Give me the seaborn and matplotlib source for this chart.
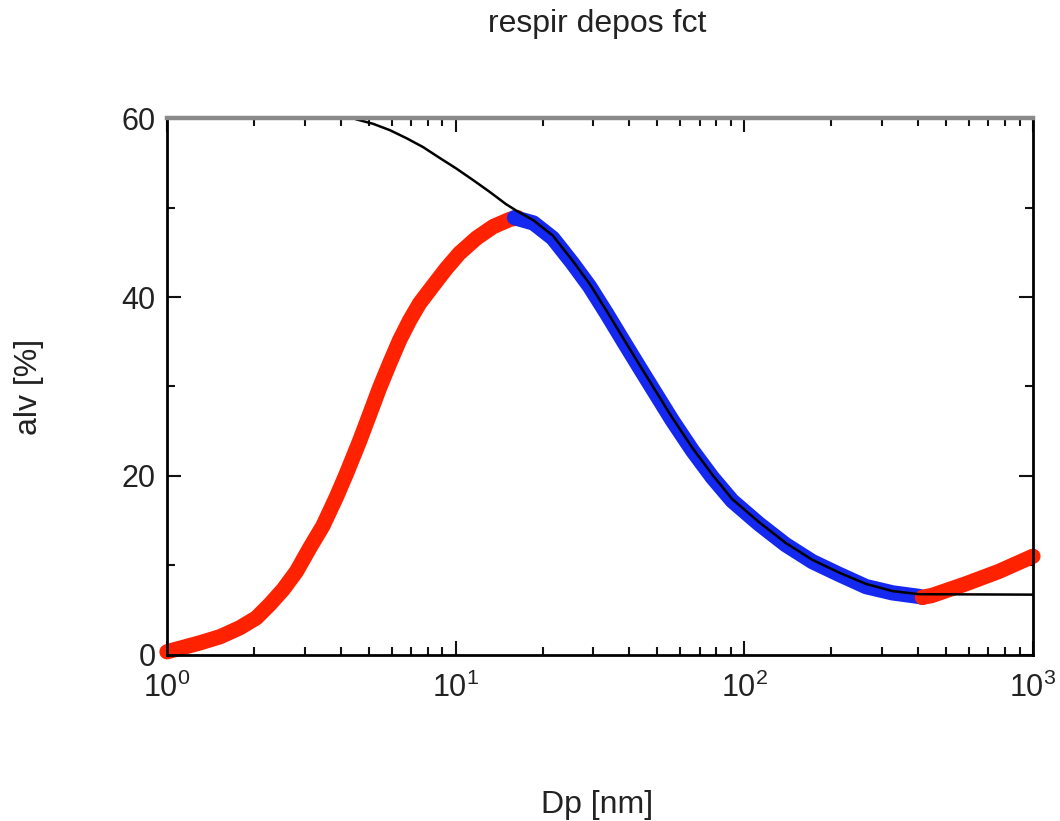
import numpy as np
import pandas as pd
import matplotlib
matplotlib.use("Agg")
import matplotlib.pyplot as plt
import seaborn as sns
from matplotlib.ticker import LogLocator, FixedLocator, NullFormatter

# ---- data ----
dp_red_lo = [1.0, 1.11, 1.30, 1.53, 1.79, 2.04, 2.27, 2.53, 2.81, 3.12, 3.47, 3.86, 4.18, 4.65,
             5.04, 5.46, 5.91, 6.40, 6.93, 7.50, 8.36, 9.28, 10.3, 11.8, 13.5, 15.4, 16.4]
alv_red_lo = [0.3, 0.7, 1.3, 2.0, 3.0, 4.1, 5.6, 7.3, 9.3, 11.9, 14.4, 17.6, 20.2, 23.9,
              26.9, 29.9, 32.6, 35.2, 37.4, 39.3, 41.3, 43.2, 44.9, 46.6, 47.9, 48.7, 48.9]

dp_blue = [16.0, 18.6, 21.7, 25.4, 29.1, 33.3, 37.9, 43.2, 49.3, 56.3, 66.2, 77.6, 90.8,
           112.6, 139, 172, 212, 264, 326, 403, 414]
alv_blue = [48.9, 48.3, 46.6, 43.8, 41.2, 38.2, 35.2, 32.2, 29.2, 26.2, 22.8, 19.8, 17.2,
            14.6, 12.3, 10.4, 9.0, 7.6, 6.9, 6.5, 6.4]

dp_red_hi = [414, 446, 584, 762, 1000]
alv_red_hi = [6.4, 6.6, 7.9, 9.3, 11.0]

dp_fit = [4.45, 4.53, 5.18, 5.91, 6.75, 7.71, 8.79, 10.05, 11.5, 13.1, 14.96, 16.2, 18.6, 21.7,
          25.4, 29.1, 33.3, 37.9, 43.2, 49.3, 56.3, 66.2, 77.6, 90.8, 112.6, 139, 172, 212,
          264, 326, 403, 1000]
alv_fit = [60.0, 59.9, 59.4, 58.7, 57.8, 56.8, 55.6, 54.4, 53.1, 51.8, 50.4, 49.7, 48.6, 46.9,
           44.1, 41.5, 38.5, 35.5, 32.5, 29.5, 26.5, 23.1, 20.1, 17.4, 14.8, 12.5, 10.6, 9.2,
           7.9, 7.1, 6.75, 6.7]

y_ticks = [0, 20, 40, 60]
y_minor = [10, 30, 50]
title = "respir depos fct"
xlabel = "Dp [nm]"
ylabel = "alv [%]"

# ---- style ----
sns.set_theme(style="ticks")
plt.rcParams["font.family"] = ["Liberation Sans", "DejaVu Sans"]
plt.rcParams["mathtext.default"] = "regular"

fig = plt.figure(figsize=(10.6, 8.21), dpi=100)
ax = fig.add_axes([0.1575, 0.2028, 0.817, 0.6529])

red = "#ff2200"
blue = "#1428f0"

kw = dict(ax=ax, sort=False, estimator=None, legend=False)
sns.lineplot(x=dp_red_lo, y=alv_red_lo, color=red, lw=11, **kw)
sns.lineplot(x=dp_blue, y=alv_blue, color=blue, lw=11, **kw)
sns.lineplot(x=dp_red_hi, y=alv_red_hi, color=red, lw=11, **kw)
sns.lineplot(x=dp_fit, y=alv_fit, color="black", lw=1.8, **kw)

for i, ln in enumerate(ax.get_lines()):
    ln.set_clip_on(i == 3)
    ln.set_solid_capstyle("round")
    ln.set_solid_joinstyle("round")

ax.set_xscale("log")
ax.set_xlim(1, 1000)
ax.set_ylim(0, 60)

ax.xaxis.set_major_locator(LogLocator(base=10, numticks=10))
ax.xaxis.set_minor_locator(LogLocator(base=10, subs=np.arange(2, 10), numticks=20))
ax.xaxis.set_minor_formatter(NullFormatter())
ax.yaxis.set_major_locator(FixedLocator(y_ticks))
ax.yaxis.set_minor_locator(FixedLocator(y_minor))

ax.tick_params(which="both", direction="in", top=True, right=True,
               labelsize=22, colors="#111111", width=1.5, labelcolor="#222222")
ax.tick_params(which="major", length=10)
ax.tick_params(which="minor", length=6)
ax.tick_params(axis="x", which="major", pad=13)
ax.tick_params(axis="y", which="major", pad=8)

for s in ["left", "bottom", "right"]:
    ax.spines[s].set_color("black")
    ax.spines[s].set_linewidth(2.0)
ax.spines["top"].set_color("#8a8a8a")
ax.spines["top"].set_linewidth(3.2)

ax.set_xlabel(xlabel, fontsize=23, color="#222222")
ax.xaxis.label.set_va("baseline")
ax.xaxis.set_label_coords(0.497, -0.296)
ax.set_ylabel(ylabel, fontsize=23, color="#222222")
ax.yaxis.label.set_va("center")
ax.yaxis.set_label_coords(-0.159, 0.5)
fig.text(0.563, 0.961, title, fontsize=23, ha="center", va="baseline", color="#222222")

fig.savefig("out.png", dpi=100)
